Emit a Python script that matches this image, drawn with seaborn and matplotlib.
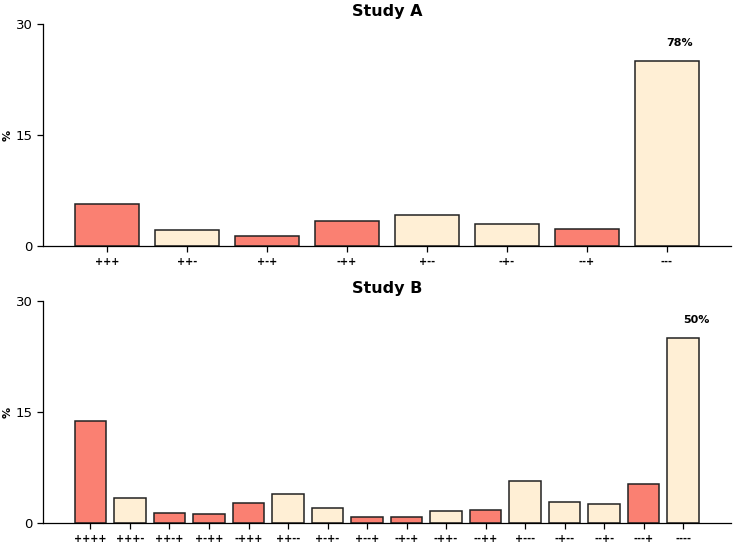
import numpy as np
import pandas as pd
import matplotlib
matplotlib.use("Agg")
import matplotlib.pyplot as plt
import seaborn as sns

# Study A: three-marker patterns
labels_a = ['+++', '++-', '+-+', '-++', '+--', '-+-', '--+', '---']
values_a = [5.7, 2.2, 1.35, 3.4, 4.2, 3.0, 2.3, 78]

# Study B: four-marker patterns
labels_b = ['++++', '+++-', '++-+', '+-++', '-+++', '++--', '+-+-', '+--+',
            '-+-+', '-++-', '--++', '+---', '-+--', '--+-', '---+', '----']
values_b = [13.8, 3.4, 1.35, 1.2, 2.7, 3.9, 2.0, 0.8,
            0.8, 1.6, 1.8, 5.7, 2.8, 2.6, 5.3, 50]

CAP = 25
SALMON = '#fa8072'
PAPAYA = '#ffefd5'

sns.set_style('ticks')
plt.rcParams['font.family'] = ['DejaVu Sans']
plt.rcParams['text.color'] = 'black'
plt.rcParams['axes.labelcolor'] = 'black'
plt.rcParams['xtick.color'] = 'black'
plt.rcParams['ytick.color'] = 'black'
plt.rcParams['axes.edgecolor'] = 'black'

fig = plt.figure(figsize=(7.33, 5.43), dpi=100)
ax_a = fig.add_axes([0.0587, 0.547, 0.938, 0.4088])
ax_b = fig.add_axes([0.0587, 0.0368, 0.938, 0.4089])


def draw(ax, labels, values, title):
    df = pd.DataFrame({'pattern': labels,
                       'value': np.minimum(values, CAP)})
    pal = {l: (SALMON if l.endswith('+') else PAPAYA) for l in labels}
    sns.barplot(data=df, x='pattern', y='value', hue='pattern', palette=pal,
                order=labels, hue_order=labels, legend=False, ax=ax,
                edgecolor='#222222', linewidth=1.1, width=0.8, saturation=1)
    n = len(labels)
    pad = 0.8 if n < 10 else 1.2
    ax.set_xlim(-pad, n - 1 + pad)
    ax.set_ylim(0, 30)
    ax.set_yticks([0, 15, 30])
    ax.set_xlabel('')
    ax.set_ylabel('%', fontsize=8, fontweight='bold', labelpad=2)
    ax.set_title(title, fontsize=11.5, fontweight='bold', pad=6)
    ax.tick_params(axis='y', labelsize=9.5, length=4, width=0.9)
    ax.tick_params(axis='x', labelsize=7, length=4, width=0.9, pad=4)
    for t in ax.get_xticklabels():
        t.set_fontweight('bold')
    for s in ['top', 'right']:
        ax.spines[s].set_visible(False)
    for s in ['left', 'bottom']:
        ax.spines[s].set_linewidth(0.9)
    for i, v in enumerate(values):
        if v > CAP:
            ax.text(i, 27.4, f'{v:.0f}%', ha='left', va='center',
                    fontsize=8, fontweight='bold')


draw(ax_a, labels_a, values_a, 'Study A')
draw(ax_b, labels_b, values_b, 'Study B')

fig.savefig('out.png', dpi=100)
